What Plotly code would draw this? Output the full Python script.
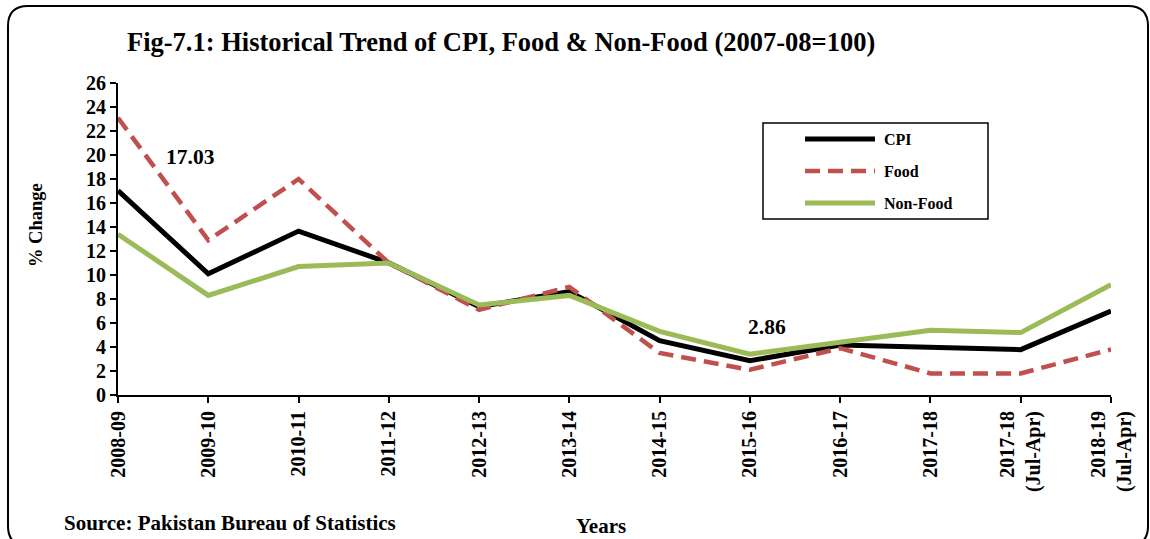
import plotly.graph_objects as go

categories = ["2008-09", "2009-10", "2010-11", "2011-12", "2012-13", "2013-14",
              "2014-15", "2015-16", "2016-17", "2017-18",
              "2017-18<br>(Jul-Apr)", "2018-19<br>(Jul-Apr)"]
cpi = [17.03, 10.10, 13.66, 11.01, 7.36, 8.62, 4.53, 2.86, 4.16, 3.92, 3.78, 7.0]
food = [23.1, 12.9, 18.0, 11.0, 7.1, 9.0, 3.5, 2.1, 3.9, 1.8, 1.8, 3.8]
nonfood = [13.4, 8.3, 10.7, 11.0, 7.5, 8.3, 5.3, 3.4, 4.4, 5.4, 5.2, 9.2]
y_ticks = list(range(0, 27, 2))

FONT = "Liberation Serif, Times New Roman, serif"
L, R, T, B = 118, 1111, 83, 395
W, H = R - L, B - T


def px(x):
    return (x - L) / W


def py(y):
    return (B - y) / H


xi = list(range(len(categories)))

fig = go.Figure()
fig.add_trace(go.Scatter(x=xi, y=cpi, mode="lines", name="CPI",
                         line=dict(color="#000000", width=5)))
fig.add_trace(go.Scatter(x=xi, y=food, mode="lines", name="Food",
                         line=dict(color="#C0504D", width=4.5, dash="15px,8px")))
fig.add_trace(go.Scatter(x=xi, y=nonfood, mode="lines", name="Non-Food",
                         line=dict(color="#9BBB59", width=5)))

fig.update_layout(
    width=1150, height=539,
    margin=dict(l=L, r=1150 - R, t=T, b=539 - B, pad=0),
    paper_bgcolor="white", plot_bgcolor="white",
    showlegend=False,
    font=dict(family=FONT, color="black"),
)
fig.update_xaxes(
    range=[0, len(categories) - 1], tickvals=xi, ticktext=categories,
    tickangle=-90, tickfont=dict(family=FONT, size=20, weight="bold", color="black"),
    showline=True, linecolor="black", linewidth=2, ticks="outside", ticklen=6,
    tickwidth=2, tickcolor="black", showgrid=False, zeroline=False,
)
fig.update_yaxes(
    range=[0, 26], tickvals=y_ticks,
    tickfont=dict(family=FONT, size=20, weight="bold", color="black"),
    showline=True, linecolor="black", linewidth=2, ticks="outside", ticklen=6,
    tickwidth=2, tickcolor="black", showgrid=False, zeroline=False,
)

ann = []
ann.append(dict(xref="paper", yref="paper", x=px(125), y=py(42), xanchor="left", yanchor="middle",
                text="Fig-7.1: Historical Trend of CPI, Food & Non-Food (2007-08=100)",
                showarrow=False, font=dict(family=FONT, size=26.5, weight="bold")))
ann.append(dict(xref="paper", yref="paper", x=px(36), y=py(225), xanchor="center", yanchor="middle",
                text="% Change", textangle=-90,
                showarrow=False, font=dict(family=FONT, size=18.5, weight="bold")))
ann.append(dict(xref="paper", yref="paper", x=px(601), y=py(526), xanchor="center", yanchor="middle",
                text="Years", showarrow=False, font=dict(family=FONT, size=21, weight="bold")))
ann.append(dict(xref="paper", yref="paper", x=px(62), y=py(523), xanchor="left", yanchor="middle",
                text="Source: Pakistan Bureau of Statistics",
                showarrow=False, font=dict(family=FONT, size=21, weight="bold")))
# data labels
ann.append(dict(xref="x", yref="y", x=0.8, y=19.8, xanchor="center", yanchor="middle",
                text=f"{cpi[0]:.2f}", showarrow=False, font=dict(family=FONT, size=21.5, weight="bold")))
ann.append(dict(xref="x", yref="y", x=7.19, y=5.65, xanchor="center", yanchor="middle",
                text=f"{cpi[7]:.2f}", showarrow=False, font=dict(family=FONT, size=21.5, weight="bold")))

shapes = []
# legend box
shapes.append(dict(type="rect", xref="paper", yref="paper", x0=px(763), x1=px(988),
                   y0=py(219), y1=py(123), line=dict(color="black", width=1.5),
                   fillcolor="white", layer="above"))
leg = [("CPI", "#000000", 5, "solid", 139),
       ("Food", "#C0504D", 4.5, "15px,8px", 171),
       ("Non-Food", "#9BBB59", 5, "solid", 203)]
for name, col, w, dash, yy in leg:
    shapes.append(dict(type="line", xref="paper", yref="paper", x0=px(805), x1=px(875),
                       y0=py(yy), y1=py(yy), line=dict(color=col, width=w, dash=dash), layer="above"))
    ann.append(dict(xref="paper", yref="paper", x=px(882), y=py(yy), xanchor="left", yanchor="middle",
                    text=name, showarrow=False, font=dict(family=FONT, size=16, weight="bold")))

# rounded outer border
bl, br, bt, bb, rr = 8, 1148, 6, 546, 20
path = (f"M {px(bl + rr)},{py(bt)} L {px(br - rr)},{py(bt)} "
        f"Q {px(br)},{py(bt)} {px(br)},{py(bt + rr)} "
        f"L {px(br)},{py(bb - rr)} Q {px(br)},{py(bb)} {px(br - rr)},{py(bb)} "
        f"L {px(bl + rr)},{py(bb)} Q {px(bl)},{py(bb)} {px(bl)},{py(bb - rr)} "
        f"L {px(bl)},{py(bt + rr)} Q {px(bl)},{py(bt)} {px(bl + rr)},{py(bt)} Z")
shapes.append(dict(type="path", xref="paper", yref="paper", path=path,
                   line=dict(color="black", width=2), layer="above"))

fig.update_layout(annotations=ann, shapes=shapes)
fig.write_html("out.html", config={"displayModeBar": False},
               post_script="document.body.style.margin='0';document.body.style.overflow='hidden';")
